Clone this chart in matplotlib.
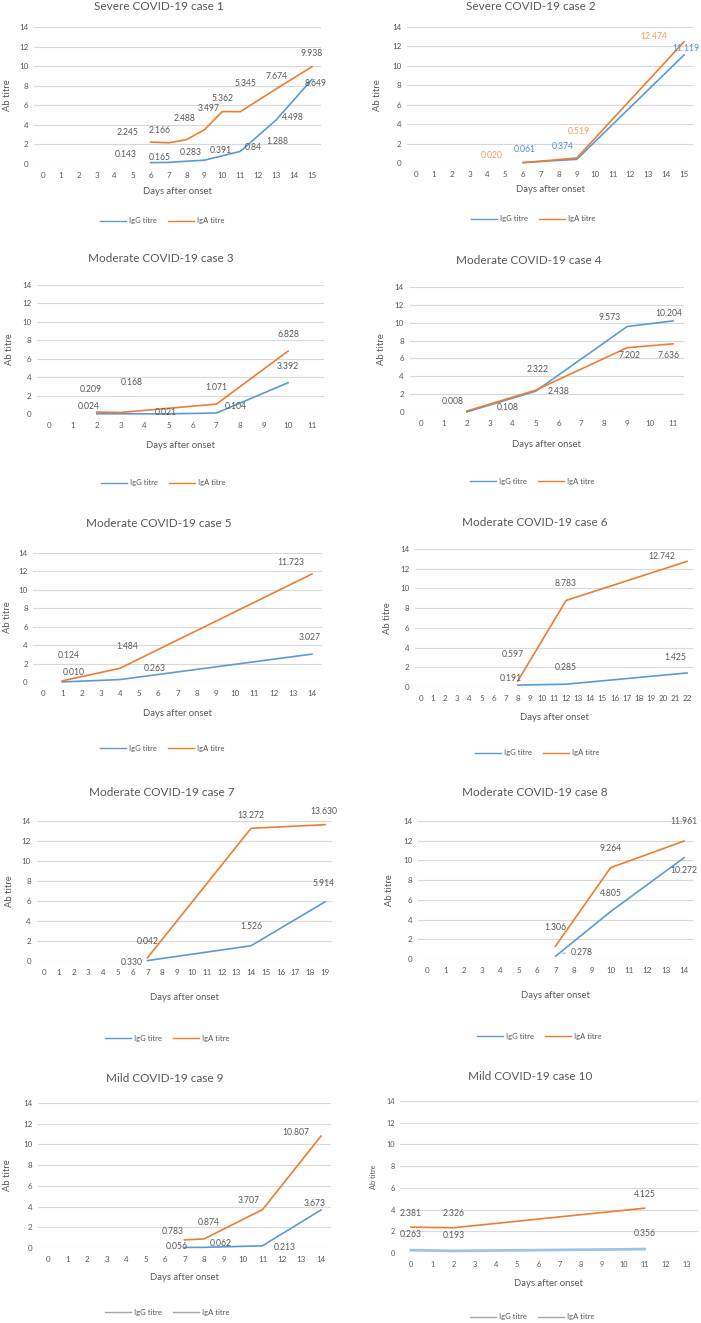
import numpy as np
import matplotlib.pyplot as plt

plt.rcParams['font.family'] = ['Lato', 'DejaVu Sans']

W, H = 701, 1323
GREY = '#595959'
BLUE = '#5B9BD5'
ORANGE = '#ED7D31'

titles = ["Severe COVID-19 case 1", "Severe COVID-19 case 2",
          "Moderate COVID-19 case 3", "Moderate COVID-19 case 4",
          "Moderate COVID-19 case 5", "Moderate COVID-19 case 6",
          "Moderate COVID-19 case 7", "Moderate COVID-19 case 8",
          "Mild COVID-19 case 9", "Mild COVID-19 case 10"]
day_max = [15, 15, 11, 11, 14, 22, 19, 14, 14, 13]

igg_days = [[6, 7, 8, 9, 10, 11, 13, 15], [6, 9, 15], [2, 5, 7, 10], [2, 5, 9, 11],
            [1, 4, 14], [8, 12, 22], [7, 14, 19], [7, 10, 14], [7, 8, 11, 14], [0, 2, 11]]
igg_values = [["0.143", "0.165", "0.283", "0.391", "0.84", "1.288", "4.498", "8.649"],
              ["0.061", "0.374", "11.119"],
              ["0.024", "0.021", "0.104", "3.392"],
              ["0.008", "2.322", "9.573", "10.204"],
              ["0.010", "0.263", "3.027"],
              ["0.191", "0.285", "1.425"],
              ["0.042", "1.526", "5.914"],
              ["0.278", "4.805", "10.272"],
              ["0.056", "0.062", "0.213", "3.673"],
              ["0.263", "0.193", "0.356"]]
iga_days = [[6, 7, 8, 9, 10, 11, 13, 15], [6, 9, 15], [2, 3, 7, 10], [2, 5, 9, 11],
            [1, 4, 14], [8, 12, 22], [7, 14, 19], [7, 10, 14], [7, 8, 11, 14], [0, 2, 11]]
iga_values = [["2.245", "2.166", "2.488", "3.497", "5.362", "5.345", "7.674", "9.938"],
              ["0.020", "0.519", "12.474"],
              ["0.209", "0.168", "1.071", "6.828"],
              ["0.108", "2.438", "7.202", "7.636"],
              ["0.124", "1.484", "11.723"],
              ["0.597", "8.783", "12.742"],
              ["0.330", "13.272", "13.630"],
              ["1.306", "9.264", "11.961"],
              ["0.783", "0.874", "3.707", "10.807"],
              ["2.381", "2.326", "4.125"]]

# data-label offsets from each point (days, titre)
igg_offsets = [[(-1.4, 0.8), (-0.5, 0.55), (0.25, 0.9), (0.9, 0.95), (1.7, 0.8), (2.05, 1.05), (0.95, 0.3), (0.2, -0.45)],
               [(0.1, 1.3), (-0.8, 1.3), (0.1, 0.7)],
               [(-0.35, 0.8), (-0.1, 0.1), (0.8, 0.75), (0, 1.8)],
               [(-0.6, 1.2), (0.1, 2.4), (-0.75, 1.05), (-0.2, 0.8)],
               [(0.6, 1.0), (1.8, 1.25), (-0.1, 1.85)],
               [(-0.55, 0.7), (0, 1.65), (-1.0, 1.6)],
               [(0, 1.95), (0, 1.9), (-0.1, 1.8)],
               [(1.45, 0.4), (0, 1.8), (0, -1.25)],
               [(-0.4, 0.05), (0.85, 0.35), (1.15, -0.2), (-0.35, 0.65)],
               [(0, 1.4), (0, 1.4), (0, 1.4)]]
iga_offsets = [[(-1.3, 0.95), (-0.5, 1.3), (-0.1, 2.2), (0.25, 2.2), (0, 1.35), (0.3, 2.9), (0, 1.3), (0, 1.4)],
               [(-1.75, 0.8), (0.1, 2.7), (-1.7, 0.5)],
               [(-0.25, 2.5), (0.45, 3.3), (0, 1.8), (0, 1.8)],
               [(1.8, 0.35), (1.0, -0.1), (0.1, -0.9), (-0.2, -1.35)],
               [(0.35, 2.7), (0.4, 2.4), (-1.1, 1.3)],
               [(-0.4, 2.75), (0, 1.75), (-2.1, 0.45)],
               [(-1.1, -0.45), (0, 1.3), (-0.1, 1.3)],
               [(0, 1.85), (0, 1.9), (0, 1.95)],
               [(-0.6, 0.85), (0.25, 1.6), (-0.7, 0.9), (-1.3, 0.3)],
               [(0, 1.3), (0, 1.35), (0, 1.3)]]

# pixel layout: first tick, last tick, y=14 line, y=0 line, title x/y, xlabel y, legend x/y, ylabel x
layout = [(43, 312, 27, 164, 159, 6, 191, 162, 221, 8),
          (416, 684, 27, 163, 531, 6, 189, 533, 219, 378),
          (49, 312, 285, 414, 161, 258, 446, 163, 483, 9),
          (421, 673, 287, 412, 529, 260, 444, 532, 481, 382),
          (43, 312, 553, 682, 159, 524, 713, 162, 748, 7),
          (421, 687, 549, 687, 535, 523, 717, 537, 753, 387),
          (44, 325, 821, 961, 162, 792, 997, 167, 1038, 9),
          (427, 684, 821, 959, 535, 793, 996, 539, 1036, 389),
          (48, 321, 1103, 1248, 165, 1078, 1278, 167, 1312, 7),
          (411, 687, 1101, 1253, 530, 1077, 1283, 532, 1317, 373)]


def fx(px):
    return px / W


def fy(py):
    return 1 - py / H


fig = plt.figure(figsize=(W / 100, H / 100), dpi=100)

for i, title in enumerate(titles):
    t0, tn, ytop, ybot, tx, ty, xly, lgx, lgy, ylx = layout[i]
    n = day_max[i]
    sp = (tn - t0) / n
    left, right = t0 - sp / 2, tn + sp / 2
    ax = fig.add_axes([fx(left), fy(ybot), (right - left) / W, (ybot - ytop) / H])
    ax.set_xlim(-0.5, n + 0.5)
    ax.set_ylim(0, 14)
    ax.set_xticks(np.arange(n + 1))
    ax.set_yticks(np.arange(0, 15, 2))
    small = 5.3 if i == 9 else 5.8
    ax.tick_params(length=0, labelsize=small, labelcolor=GREY, pad=4)
    ax.tick_params(axis='x', pad=6)
    for s in ax.spines.values():
        s.set_visible(False)
    ax.grid(axis='y', color='#D9D9D9', lw=0.8)
    ax.set_axisbelow(True)

    gd = igg_days[i]
    gv = [float(v) for v in igg_values[i]]
    ad = iga_days[i]
    av = [float(v) for v in iga_values[i]]
    if i == 9:
        ax.plot(gd, gv, color='#9DC3E6', lw=2.0, clip_on=False, zorder=3)
    else:
        ax.plot(gd, gv, color=BLUE, lw=1.2, clip_on=False, zorder=3)
    ax.plot(ad, av, color=ORANGE, lw=1.2, clip_on=False, zorder=3)

    gcol, acol = (('#4F8FD0', '#F29B5C') if i == 1 else (GREY, GREY))
    for x, y, s, (dx, dy) in zip(gd, gv, igg_values[i], igg_offsets[i]):
        if i == 7 and s == "0.278":
            ax.annotate(s, xy=(x + 0.2, y + 0.3), xytext=(x + dx, y + dy), fontsize=6.2,
                        color=gcol, ha='center', va='center',
                        arrowprops=dict(arrowstyle='-', color='#A6A6A6', lw=0.6))
        else:
            ax.text(x + dx, y + dy, s, fontsize=6.2, color=gcol, ha='center', va='center',
                    clip_on=False, zorder=4)
    for x, y, s, (dx, dy) in zip(ad, av, iga_values[i], iga_offsets[i]):
        ax.text(x + dx, y + dy, s, fontsize=6.2, color=acol, ha='center', va='center',
                clip_on=False, zorder=4)

    fig.text(fx(tx), fy(ty), title, fontsize=8.5, color=GREY, ha='center', va='center')
    fig.text(fx((left + right) / 2), fy(xly), "Days after onset", fontsize=6.8, color=GREY,
             ha='center', va='center')
    fig.text(fx(ylx), fy((ytop + ybot) / 2), "Ab titre", fontsize=5.3 if i == 9 else 6.8,
             color=GREY, rotation=90, ha='center', va='center')

    if i >= 8:
        hc = ['#A6A6A6', '#A6A6A6']
    else:
        hc = [BLUE, ORANGE]
    h1, = ax.plot([], [], color=hc[0], lw=1.0)
    h2, = ax.plot([], [], color=hc[1], lw=1.0)
    ax.legend([h1, h2], ["IgG titre", "IgA titre"], loc='center',
              bbox_to_anchor=(fx(lgx), fy(lgy)), bbox_transform=fig.transFigure,
              ncol=2, frameon=False, fontsize=5.5, labelcolor=GREY,
              handlelength=3.4, handletextpad=0.4, columnspacing=1.4)

fig.savefig('out.png', dpi=100, facecolor='white')
